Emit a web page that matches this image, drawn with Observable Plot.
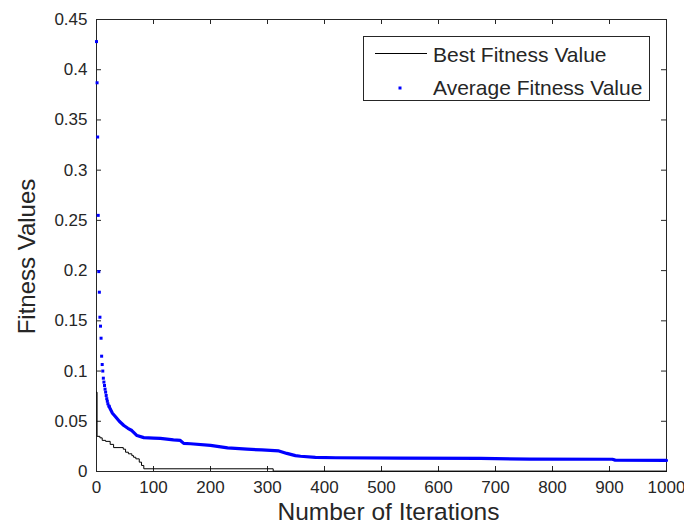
<!DOCTYPE html>
<html>
<head>
<meta charset="utf-8">
<script src="https://cdn.jsdelivr.net/npm/d3@7"></script>
<script src="https://cdn.jsdelivr.net/npm/@observablehq/plot@0.6"></script>
<style>
  html, body { margin: 0; padding: 0; background: #fff; }
  #chart { position: relative; width: 684px; height: 524px; overflow: hidden; }
</style>
</head>
<body>
<div id="chart"></div>
<script>
// ---- data ----
const seriesNames = ["Best Fitness Value", "Average Fitness Value"];
const xLabel = "Number of Iterations";
const yLabel = "Fitness Values";

const xTicks = [0, 100, 200, 300, 400, 500, 600, 700, 800, 900, 1000];
const xTickLabels = ["0", "100", "200", "300", "400", "500", "600", "700", "800", "900", "1000"];
const yTicks = [0, 0.05, 0.1, 0.15, 0.2, 0.25, 0.3, 0.35, 0.4, 0.45];
const yTickLabels = ["0", "0.05", "0.1", "0.15", "0.2", "0.25", "0.3", "0.35", "0.4", "0.45"];

// Best fitness (step function: value holds until next iteration listed)
const bestIter = [0, 1, 6, 10, 16, 24, 30, 47, 51, 56, 62, 65, 69, 75, 79, 83, 310, 1000];
const bestVal  = [0.079, 0.035, 0.0335, 0.031, 0.030, 0.027, 0.0238, 0.0222, 0.0192, 0.0176, 0.0158, 0.0142, 0.0126, 0.0093, 0.0060, 0.0027, 0.0004, 0.0004];

// Average fitness: sparse early dots
const avgDotIter = [0, 1, 2, 3, 4, 5, 6, 7, 8, 9, 10, 11, 12, 13, 14, 15, 16, 17, 18, 19, 20, 22];
const avgDotVal  = [0.428, 0.387, 0.333, 0.255, 0.199, 0.1785, 0.1536, 0.1447, 0.1327, 0.1148, 0.1065, 0.1000, 0.0929, 0.0890, 0.0856, 0.0820, 0.0790, 0.0757, 0.0725, 0.0700, 0.0674, 0.0650];
// Average fitness: dense part (dots merge into a band)
const avgBandIter = [22, 24, 28, 33, 40, 48, 55, 62, 71, 83, 100, 112, 135, 147, 153, 165, 200, 230, 264, 290, 320, 334, 349, 358, 384, 420, 533, 674, 760, 905, 910, 1000];
const avgBandVal  = [0.065, 0.0624, 0.058, 0.0548, 0.050, 0.0458, 0.043, 0.0408, 0.0358, 0.0337, 0.0333, 0.033, 0.0315, 0.0309, 0.028, 0.0276, 0.026, 0.0235, 0.0222, 0.0215, 0.0205, 0.018, 0.0158, 0.0152, 0.014, 0.0137, 0.0133, 0.013, 0.0124, 0.0122, 0.0113, 0.011];

// ---- build tables ----
const best = bestIter.map((x, i) => ({x, y: bestVal[i]}));
const avgDots = avgDotIter.map((x, i) => ({x, y: avgDotVal[i]}));
const avgBand = avgBandIter.map((x, i) => ({x, y: avgBandVal[i]}));

const W = 684, H = 524, mL = 96, mR = 18, mT = 19, mB = 53;
const fw = W - mL - mR, fh = H - mT - mB;
const FONT = "Liberation Sans, Arial, Helvetica, sans-serif";
const ink = "#262626";

const chart = Plot.plot({
  width: W, height: H,
  marginLeft: mL, marginRight: mR, marginTop: mT, marginBottom: mB,
  style: {fontFamily: FONT, background: "#fff", overflow: "visible"},
  x: {domain: [0, 1000], ticks: xTicks},
  y: {domain: [0, 0.45], ticks: yTicks},
  marks: [
    // frame & inward ticks (box on all four sides), beneath the data
    Plot.frame({stroke: ink, strokeWidth: 1}),
    Plot.tickX(xTicks, {x: d => d, insetTop: fh - 5, stroke: ink}),
    Plot.tickX(xTicks, {x: d => d, insetBottom: fh - 5, stroke: ink}),
    Plot.tickY(yTicks, {y: d => d, insetRight: fw - 5, stroke: ink}),
    Plot.tickY(yTicks, {y: d => d, insetLeft: fw - 5, stroke: ink}),
    // data
    Plot.line(best, {x: "x", y: "y", curve: "step-after", stroke: "#000", strokeWidth: 1}),
    Plot.line(avgBand, {x: "x", y: "y", stroke: "#0000ff", strokeWidth: 3.2}),
    Plot.dot(avgDots, {x: "x", y: "y", r: 1.7, fill: "#0000ff", stroke: null, symbol: "square"}),
    // tick labels
    Plot.axisX({ticks: xTicks, tickSize: 0, tickPadding: 9, fontSize: 17, label: null,
                color: ink, tickFormat: d => xTickLabels[xTicks.indexOf(d)]}),
    Plot.axisY({ticks: yTicks, tickSize: 0, tickPadding: 9, fontSize: 17, label: null,
                color: ink, tickFormat: d => yTickLabels[yTicks.indexOf(d)]}),
    // axis titles
    Plot.text([xLabel], {text: d => d, frameAnchor: "bottom", dx: 7, dy: 41, fontSize: 24.5,
                         fill: ink, textAnchor: "middle", lineAnchor: "middle"}),
    Plot.text([yLabel], {text: d => d, frameAnchor: "left", dx: -69, dy: 11, rotate: -90, fontSize: 24,
                         fill: ink, textAnchor: "middle", lineAnchor: "middle"})
  ]
});

// legend inside the axes (top-right)
const svg = d3.select(chart);
const lg = svg.append("g").attr("font-family", FONT).attr("text-anchor", "start");
lg.append("rect").attr("x", 363.5).attr("y", 36.5).attr("width", 286).attr("height", 64)
  .attr("fill", "#fff").attr("stroke", ink).attr("stroke-width", 1);
lg.append("line").attr("x1", 375).attr("x2", 427).attr("y1", 53.5).attr("y2", 53.5)
  .attr("stroke", "#000").attr("stroke-width", 1);
lg.append("rect").attr("x", 398.5).attr("y", 86.5).attr("width", 3).attr("height", 3).attr("fill", "#0000ff");
lg.selectAll("text.lab").data(seriesNames).join("text")
  .attr("class", "lab")
  .attr("x", 433).attr("y", (d, i) => i === 0 ? 54 : 87)
  .attr("dy", "0.36em")
  .attr("text-anchor", "start")
  .attr("font-size", 21).attr("fill", ink)
  .text(d => d);

document.getElementById("chart").appendChild(chart);
</script>
</body>
</html>
